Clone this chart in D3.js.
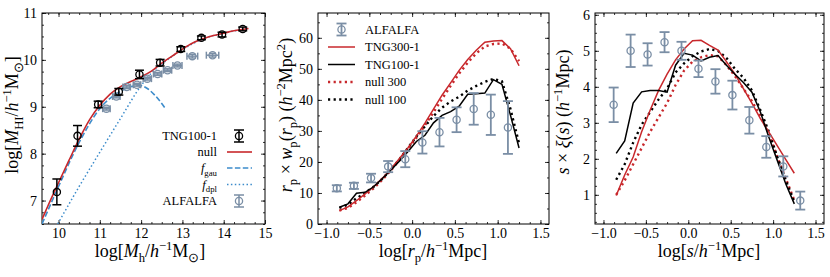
<!DOCTYPE html>
<html>
<head>
<meta charset="utf-8">
<script src="https://cdn.jsdelivr.net/npm/d3@7"></script>
<style>
  body { margin: 0; background: #fff; }
  svg text { font-family: "Liberation Serif", "Times New Roman", serif; }
</style>
</head>
<body>
<div id="viz"></div>
<script>
const width = 830;
const height = 277;

// colours
const red = '#c8282c';
const blue = '#3d8ccb';
const grey = '#7a8ea5';

// ---- panel 1: HI mass vs halo mass ----
const tngMh = [9.96, 10.46, 10.96, 11.46, 11.96, 12.46, 12.96, 13.46, 13.96, 14.46];
const tngMhi = [7.18, 8.38, 9.05, 9.32, 9.69, 9.94, 10.23, 10.47, 10.54, 10.66];
const tngErrLo = [0.27, 0.22, 0.07, 0.07, 0.09, 0.07, 0.05, 0.04, 0.05, 0.04];
const tngErrHi = [0.28, 0.22, 0.07, 0.07, 0.09, 0.07, 0.05, 0.04, 0.05, 0.04];

const alfMh = [11.16, 11.4, 11.65, 11.9, 12.15, 12.4, 12.64, 12.88, 13.24, 13.73];
const alfMhi = [8.96, 9.22, 9.42, 9.47, 9.6, 9.7, 9.78, 9.88, 10.08, 10.1];
const alfMhXerr = [0.09, 0.09, 0.09, 0.09, 0.1, 0.1, 0.1, 0.11, 0.13, 0.15];
const alfMhYerr = [0.03, 0.03, 0.03, 0.03, 0.03, 0.03, 0.03, 0.03, 0.04, 0.04];

const nullMh = [9.6, 9.75, 10, 10.25, 10.5, 10.75, 11, 11.25, 11.5, 11.75, 12, 12.25, 12.5, 12.75, 13, 13.25, 13.5, 13.75, 14, 14.25, 14.6];
const nullMhi = [6.6, 6.9, 7.38, 7.85, 8.31, 8.72, 9.03, 9.27, 9.43, 9.54, 9.64, 9.76, 9.93, 10.08, 10.23, 10.36, 10.45, 10.52, 10.57, 10.62, 10.67];

const gauMh = [9.6, 10, 10.5, 11, 11.5, 11.75, 11.95, 12.15, 12.35, 12.6];
const gauMhi = [6.5, 7.3, 8.24, 8.96, 9.33, 9.43, 9.46, 9.39, 9.23, 8.95];

const dplMh = [9.98, 10.5, 11, 11.5, 12, 12.25, 12.5, 13, 13.5, 14, 14.6];
const dplMhi = [6.5, 7.3, 8.03, 8.75, 9.45, 9.72, 9.91, 10.22, 10.45, 10.57, 10.67];

// ---- panel 2: projected correlation ----
const rpSim = [-0.85, -0.75, -0.65, -0.55, -0.45, -0.35, -0.25, -0.15, -0.05, 0.05, 0.15,
               0.25, 0.35, 0.45, 0.55, 0.65, 0.75, 0.85, 0.95, 1.05, 1.15, 1.25];
const wpTng300 = [4.3, 5.5, 7.5, 9.7, 12.0, 14.7, 17.7, 21.0, 24.5, 28.3, 32.5,
                  37.0, 41.5, 45.5, 49.5, 53.0, 56.0, 58.6, 59.0, 59.1, 56.5, 51.0];
const wpTng100 = [5.4, 6.5, 9.9, 10.2, 12.0, 14.6, 17.3, 20.2, 23.3, 26.6, 28.6,
                  32.6, 35.0, 36.2, 38.0, 41.8, 42.0, 42.2, 46.5, 45.0, 35.0, 24.5];
const wpNull300 = [4.3, 5.2, 7.0, 9.2, 11.5, 14.2, 17.2, 20.5, 24.0, 27.8, 31.8,
                   36.0, 40.3, 44.5, 48.5, 52.0, 55.0, 57.2, 58.0, 58.2, 56.5, 52.5];
const wpNull100 = [5.2, 6.2, 8.3, 10.0, 12.0, 14.5, 17.5, 20.8, 24.5, 28.2, 31.5,
                   34.8, 37.5, 39.5, 41.0, 43.0, 44.5, 45.8, 46.8, 46.0, 37.0, 26.0];

const rpObs = [-0.88, -0.68, -0.48, -0.28, -0.08, 0.12, 0.32, 0.52, 0.72, 0.92, 1.12];
const wpObs = [11.5, 12.3, 14.8, 18.5, 20.9, 26.3, 29.6, 33.6, 37.1, 35.2, 31.1];
const wpObsErr = [1.0, 1.0, 1.4, 1.8, 2.6, 3.6, 4.6, 4.0, 5.1, 6.5, 8.5];

// ---- panel 3: redshift-space correlation ----
const sSim = rpSim;
const xiTng300 = [0.98, 1.55, 2.05, 2.75, 3.35, 3.9, 4.35, 4.75, 5.05, 5.28, 5.29,
                  5.15, 5.02, 4.7, 4.35, 3.95, 3.55, 3.12, 2.74, 2.36, 1.98, 1.6];
const xiTng100 = [2.15, 2.5, 3.55, 3.86, 3.9, 3.9, 3.85, 4.6, 4.93, 4.88, 4.72,
                  4.82, 4.87, 4.6, 4.35, 4.12, 3.85, 3.3, 2.6, 1.95, 1.3, 0.75];
const xiNull300 = [1.0, 1.4, 1.85, 2.3, 2.75, 3.15, 3.55, 4.05, 4.45, 4.7, 4.82,
                   4.88, 4.85, 4.6, 4.3, 3.95, 3.6, 3.2, 2.7, 2.05, 1.45, 0.85];
const xiNull100 = [1.42, 1.85, 2.45, 2.95, 3.3, 3.65, 3.95, 4.4, 4.65, 4.85, 4.98,
                   5.05, 5.0, 4.8, 4.5, 4.25, 3.9, 3.35, 2.75, 2.05, 1.4, 0.8];

const sObs = [-0.88, -0.68, -0.48, -0.28, -0.08, 0.12, 0.32, 0.52, 0.72, 0.92, 1.12, 1.32];
const xiObs = [3.5, 5.0, 4.9, 5.24, 5.0, 4.5, 4.15, 3.77, 3.07, 2.33, 1.79, 0.84];
const xiObsErr = [0.48, 0.45, 0.31, 0.28, 0.25, 0.23, 0.34, 0.4, 0.37, 0.3, 0.28, 0.25];

const svg = d3.select('#viz').append('svg')
  .attr('width', width)
  .attr('height', height);

// helper: zip two arrays into points
const zip = (xs, ys) => xs.map((x, i) => [x, ys[i]]);

// rich text with italics / sub / superscripts (dy is relative, so track the offset)
function richText(sel, parts, size) {
  let cur = 0;
  parts.forEach(p => {
    const small = p.sub || p.sup;
    const want = p.sub ? 0.28 * size : p.sup ? -0.38 * size : 0;
    const t = sel.append('tspan')
      .text(p.t)
      .style('font-size', (small ? size * 0.7 : size) + 'px')
      .style('font-style', p.it ? 'italic' : 'normal');
    if (want !== cur) t.attr('dy', want - cur);
    cur = want;
  });
}

function makePanel(cfg) {
  const x = d3.scaleLinear().domain(cfg.xdom).range([cfg.left, cfg.right]);
  const y = d3.scaleLinear().domain(cfg.ydom).range([cfg.bottom, cfg.top]);
  const g = svg.append('g');

  const clip = 'clip-' + cfg.id;
  g.append('clipPath').attr('id', clip)
    .append('rect')
      .attr('x', cfg.left).attr('y', cfg.top)
      .attr('width', cfg.right - cfg.left).attr('height', cfg.bottom - cfg.top);

  const minorX = d3.range(cfg.xdom[0], cfg.xdom[1] + 1e-9, cfg.xminor)
    .map(v => Math.round(v / cfg.xminor) * cfg.xminor)
    .filter(v => v >= cfg.xdom[0] && v <= cfg.xdom[1]);
  const minorY = d3.range(Math.ceil(cfg.ydom[0] / cfg.yminor) * cfg.yminor, cfg.ydom[1] + 1e-9, cfg.yminor);

  const axes = g.append('g').attr('class', 'axes');
  // bottom
  axes.append('g').attr('transform', `translate(0,${cfg.bottom})`)
    .call(d3.axisBottom(x).tickValues(cfg.xticks).tickFormat(cfg.xfmt).tickSize(-4).tickPadding(4));
  axes.append('g').attr('transform', `translate(0,${cfg.bottom})`)
    .call(d3.axisBottom(x).tickValues(minorX).tickFormat('').tickSize(-2));
  // top
  axes.append('g').attr('transform', `translate(0,${cfg.top})`)
    .call(d3.axisTop(x).tickValues(cfg.xticks).tickFormat('').tickSize(-4));
  axes.append('g').attr('transform', `translate(0,${cfg.top})`)
    .call(d3.axisTop(x).tickValues(minorX).tickFormat('').tickSize(-2));
  // left
  axes.append('g').attr('transform', `translate(${cfg.left},0)`)
    .call(d3.axisLeft(y).tickValues(cfg.yticks).tickFormat(cfg.yfmt).tickSize(-4).tickPadding(5));
  axes.append('g').attr('transform', `translate(${cfg.left},0)`)
    .call(d3.axisLeft(y).tickValues(minorY).tickFormat('').tickSize(-2));
  // right
  axes.append('g').attr('transform', `translate(${cfg.right},0)`)
    .call(d3.axisRight(y).tickValues(cfg.yticks).tickFormat('').tickSize(-4));
  axes.append('g').attr('transform', `translate(${cfg.right},0)`)
    .call(d3.axisRight(y).tickValues(minorY).tickFormat('').tickSize(-2));

  axes.selectAll('.domain').remove();
  // drop the empty label nodes of the unlabelled axes
  axes.selectAll('text').filter(function() { return this.textContent === ''; }).remove();
  axes.selectAll('line').attr('stroke', '#000').attr('stroke-width', 0.8);
  axes.selectAll('text')
    .attr('fill', '#000')
    .style('font-size', '14px')
    .style('font-family', '"Liberation Serif", "Times New Roman", serif');

  g.append('rect')
    .attr('x', cfg.left).attr('y', cfg.top)
    .attr('width', cfg.right - cfg.left).attr('height', cfg.bottom - cfg.top)
    .attr('fill', 'none').attr('stroke', '#000').attr('stroke-width', 1);

  const plot = g.append('g').attr('clip-path', `url(#${clip})`);
  return {x, y, g, plot};
}

function drawLine(p, pts, color, opts) {
  const line = d3.line().x(d => p.x(d[0])).y(d => p.y(d[1]));
  if (opts.smooth) line.curve(d3.curveMonotoneX);
  p.plot.append('path')
    .datum(pts)
    .attr('d', line)
    .attr('fill', 'none')
    .attr('stroke', color)
    .attr('stroke-width', opts.w)
    .attr('stroke-dasharray', opts.dash || null);
}

function drawErr(p, xs, ys, lo, hi, color, opts) {
  const gg = p.g.append('g');
  xs.forEach((xv, i) => {
    const cx = p.x(xv), cy = p.y(ys[i]);
    const capW = opts.cap;
    const y1 = p.y(ys[i] + hi[i]), y0 = p.y(ys[i] - lo[i]);
    gg.append('line').attr('x1', cx).attr('x2', cx).attr('y1', y0).attr('y2', y1)
      .attr('stroke', color).attr('stroke-width', opts.w);
    [y0, y1].forEach(yy => gg.append('line')
      .attr('x1', cx - capW / 2).attr('x2', cx + capW / 2).attr('y1', yy).attr('y2', yy)
      .attr('stroke', color).attr('stroke-width', opts.w));
    if (opts.xerr) {
      const x0 = p.x(xv - opts.xerr[i]), x1 = p.x(xv + opts.xerr[i]);
      gg.append('line').attr('x1', x0).attr('x2', x1).attr('y1', cy).attr('y2', cy)
        .attr('stroke', color).attr('stroke-width', opts.w);
      [x0, x1].forEach(xx => gg.append('line')
        .attr('x1', xx).attr('x2', xx).attr('y1', cy - capW / 2).attr('y2', cy + capW / 2)
        .attr('stroke', color).attr('stroke-width', opts.w));
    }
    gg.append('circle').attr('cx', cx).attr('cy', cy).attr('r', 3.6)
      .attr('fill', 'none').attr('stroke', color).attr('stroke-width', 1.3);
  });
}

// legend handles
function legLine(x0, x1, y, color, w, dash) {
  svg.append('line').attr('x1', x0).attr('x2', x1).attr('y1', y).attr('y2', y)
    .attr('stroke', color).attr('stroke-width', w).attr('stroke-dasharray', dash || null);
}
function legErr(cx, y, color, w) {
  svg.append('line').attr('x1', cx).attr('x2', cx).attr('y1', y - 6).attr('y2', y + 6)
    .attr('stroke', color).attr('stroke-width', w);
  [y - 6, y + 6].forEach(yy => svg.append('line').attr('x1', cx - 5).attr('x2', cx + 5)
    .attr('y1', yy).attr('y2', yy).attr('stroke', color).attr('stroke-width', w));
  svg.append('circle').attr('cx', cx).attr('cy', y).attr('r', 3.6)
    .attr('fill', 'none').attr('stroke', color).attr('stroke-width', 1.3);
}
function legText(x, y, parts, anchor) {
  const t = svg.append('text').attr('x', x).attr('y', y + 4)
    .attr('text-anchor', anchor).attr('fill', '#000');
  richText(t, parts, 12.5);
}
function axisLabel(x, y, parts, rotate) {
  const t = svg.append('text')
    .attr('text-anchor', 'middle').attr('fill', '#000')
    .attr('transform', rotate ? `translate(${x},${y}) rotate(-90)` : `translate(${x},${y})`);
  richText(t, parts, 18);
}

// ================= panel 1 =================
const p1 = makePanel({
  id: 'p1', left: 42, right: 265, top: 13, bottom: 224,
  xdom: [9.6, 15], ydom: [6.5, 11],
  xticks: [10, 11, 12, 13, 14, 15], yticks: [7, 8, 9, 10, 11],
  xminor: 0.25, yminor: 0.25,
  xfmt: d3.format('d'), yfmt: d3.format('d')
});
drawLine(p1, zip(dplMh, dplMhi), blue, {w: 1.5, dash: '1.5 2.4', smooth: true});
drawLine(p1, zip(gauMh, gauMhi), blue, {w: 1.6, dash: '5.5 2.4', smooth: true});
drawLine(p1, zip(nullMh, nullMhi), red, {w: 1.6, smooth: true});
drawErr(p1, alfMh, alfMhi, alfMhYerr, alfMhYerr, grey, {w: 1.5, cap: 7, xerr: alfMhXerr});
drawErr(p1, tngMh, tngMhi, tngErrLo, tngErrHi, '#000', {w: 1.5, cap: 9});

// legend 1
legText(217, 136, [{t: 'TNG100-1'}], 'end');
legErr(239, 136, '#000', 1.5);
legText(217, 152, [{t: 'null'}], 'end');
legLine(227, 252, 152, red, 1.6);
legText(217, 168, [{t: 'f', it: true}, {t: 'gau', sub: true}], 'end');
legLine(227, 252, 168, blue, 1.6, '5.5 2.4');
legText(217, 184.5, [{t: 'f', it: true}, {t: 'dpl', sub: true}], 'end');
legLine(227, 252, 184.5, blue, 1.5, '1.5 2.4');
legText(217, 201, [{t: 'ALFALFA'}], 'end');
legErr(239, 201, grey, 1.5);

axisLabel(150, 257, [{t: 'log['}, {t: 'M', it: true}, {t: 'h', sub: true}, {t: '/'},
  {t: 'h', it: true}, {t: '\u22121', sup: true}, {t: 'M'}, {t: '\u2299', sub: true}, {t: ']'}]);
axisLabel(18, 115, [{t: 'log['}, {t: 'M', it: true}, {t: 'HI', sub: true}, {t: '/'},
  {t: 'h', it: true}, {t: '\u22121', sup: true}, {t: 'M'}, {t: '\u2299', sub: true}, {t: ']'}], true);

// ================= panel 2 =================
const p2 = makePanel({
  id: 'p2', left: 318, right: 549, top: 13, bottom: 224,
  xdom: [-1.1, 1.6], ydom: [0, 68],
  xticks: [-1, -0.5, 0, 0.5, 1, 1.5], yticks: [0, 10, 20, 30, 40, 50, 60],
  xminor: 0.125, yminor: 5,
  xfmt: d3.format('.1f'), yfmt: d3.format('d')
});
drawLine(p2, zip(rpSim, wpNull300), red, {w: 2.4, dash: '2.2 3.4'});
drawLine(p2, zip(rpSim, wpNull100), '#000', {w: 2.4, dash: '2.2 3.4'});
drawLine(p2, zip(rpSim, wpTng300), red, {w: 1.5});
drawLine(p2, zip(rpSim, wpTng100), '#000', {w: 1.5});
drawErr(p2, rpObs, wpObs, wpObsErr, wpObsErr, grey, {w: 1.8, cap: 10});

legErr(341.5, 29.5, grey, 1.8);
legText(365, 29.5, [{t: 'ALFALFA'}], 'start');
legLine(328, 355, 47, red, 1.5);
legText(365, 47, [{t: 'TNG300-1'}], 'start');
legLine(328, 355, 64.5, '#000', 1.5);
legText(365, 64.5, [{t: 'TNG100-1'}], 'start');
legLine(328, 355, 82, red, 2.4, '2.2 3.4');
legText(365, 82, [{t: 'null 300'}], 'start');
legLine(328, 355, 99.5, '#000', 2.4, '2.2 3.4');
legText(365, 99.5, [{t: 'null 100'}], 'start');

axisLabel(433, 257, [{t: 'log['}, {t: 'r', it: true}, {t: 'p', sub: true}, {t: '/'},
  {t: 'h', it: true}, {t: '\u22121', sup: true}, {t: 'Mpc]'}]);
axisLabel(292, 115, [{t: 'r', it: true}, {t: 'p', sub: true}, {t: ' \u00d7 '}, {t: 'w', it: true},
  {t: 'p', sub: true}, {t: '('}, {t: 'r', it: true}, {t: 'p', sub: true}, {t: ') ('},
  {t: 'h', it: true}, {t: '\u22122', sup: true}, {t: 'Mpc'}, {t: '2', sup: true}, {t: ')'}], true);

// ================= panel 3 =================
const p3 = makePanel({
  id: 'p3', left: 595, right: 824, top: 13, bottom: 224,
  xdom: [-1.1, 1.6], ydom: [0.19, 6.05],
  xticks: [-1, -0.5, 0, 0.5, 1, 1.5], yticks: [1, 2, 3, 4, 5, 6],
  xminor: 0.125, yminor: 0.25,
  xfmt: d3.format('.1f'), yfmt: d3.format('d')
});
drawLine(p3, zip(sSim, xiNull300), red, {w: 2.4, dash: '2.2 3.4'});
drawLine(p3, zip(sSim, xiNull100), '#000', {w: 2.4, dash: '2.2 3.4'});
drawLine(p3, zip(sSim, xiTng300), red, {w: 1.5});
drawLine(p3, zip(sSim, xiTng100), '#000', {w: 1.5});
drawErr(p3, sObs, xiObs, xiObsErr, xiObsErr, grey, {w: 1.8, cap: 10});

axisLabel(709, 257, [{t: 'log['}, {t: 's', it: true}, {t: '/'},
  {t: 'h', it: true}, {t: '\u22121', sup: true}, {t: 'Mpc]'}]);
axisLabel(569, 112, [{t: 's', it: true}, {t: ' \u00d7 '}, {t: '\u03be', it: true}, {t: '('},
  {t: 's', it: true}, {t: ') ('}, {t: 'h', it: true}, {t: '\u22121', sup: true}, {t: 'Mpc)'}], true);
</script>
</body>
</html>
